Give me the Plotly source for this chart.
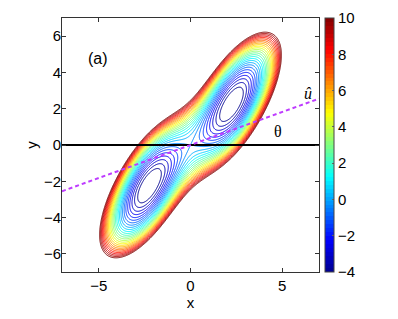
import numpy as np
import plotly.graph_objects as go

# ---- data / model parameters ----
x_range = [-7, 7]
y_range = [-7, 7]
x_ticks = [-5, 0, 5]
y_ticks = [-6, -4, -2, 0, 2, 4, 6]
cbar_ticks = [-4, -2, 0, 2, 4, 6, 8, 10]
cbar_range = [-4, 10]
contour_levels = [-3.5, 10, 0.5]     # start, end, step
well_x = [2.25]                      # wells at +/-(2.25, 2.25)
barrier = [4.3]                      # saddle (0) minus well minimum
softening = [0.71]
transverse_k = [3.3]
hline_x = [-7, 7]
hline_y = [0, 0]
uhat_x = [-7, 7]
uhat_y = [-2.55, 2.55]
labels = ["(a)", "θ", "<i>û</i>"]
label_x = [-5.05, 4.77, 6.4]
label_y = [4.75, 0.75, 2.85]

# ---- potential surface on a grid ----
xs = np.linspace(x_range[0], x_range[1], 401)
ys = np.linspace(y_range[0], y_range[1], 401)
X, Y = np.meshgrid(xs, ys)
U = X / well_x[0]
Z = barrier[0] * (U**2 - 1) ** 2 / (1 + softening[0] * U**2) - barrier[0] \
    + 0.5 * transverse_k[0] * (Y - X) ** 2

# MATLAB-like jet colormap
jet_nodes = [(0, (0, 0, 143)), (0.125, (0, 0, 255)), (0.375, (0, 255, 255)),
             (0.625, (255, 255, 0)), (0.875, (255, 0, 0)), (1, (128, 0, 0))]

def jet_rgb(t):
    for (t0, c0), (t1, c1) in zip(jet_nodes[:-1], jet_nodes[1:]):
        if t <= t1:
            f = (t - t0) / (t1 - t0)
            return tuple(int(round(a + f * (b - a))) for a, b in zip(c0, c1))
    return jet_nodes[-1][1]

jet = [[t, "rgb(%d,%d,%d)" % c] for t, c in jet_nodes]
nsteps = 64
jet_steps = []
for i in range(nsteps):
    c = "rgb(%d,%d,%d)" % jet_rgb((i + 0.5) / nsteps)
    jet_steps.append([i / nsteps, c])
    jet_steps.append([(i + 1) / nsteps, c])

fig = go.Figure()
fig.add_trace(go.Contour(
    x=xs, y=ys, z=Z,
    contours=dict(coloring="lines", start=contour_levels[0],
                  end=contour_levels[1], size=contour_levels[2]),
    colorscale=jet, zmin=cbar_range[0], zmax=cbar_range[1], zauto=False,
    showscale=False, line=dict(width=1.0), hoverinfo="skip",
))
fig.add_trace(go.Scatter(x=hline_x, y=hline_y, mode="lines",
                         line=dict(color="black", width=2), showlegend=False))
fig.add_trace(go.Scatter(x=uhat_x, y=uhat_y, mode="lines",
                         line=dict(color="rgb(190,60,255)", width=2, dash="4px,3px"),
                         showlegend=False))
fig.add_trace(go.Scatter(
    x=[None], y=[None], mode="markers", showlegend=False,
    marker=dict(colorscale=jet_steps, cmin=cbar_range[0], cmax=cbar_range[1],
                color=[0], showscale=True,
                colorbar=dict(x=1.024, xanchor="left", xpad=0, y=0.5, yanchor="middle",
                              len=1, lenmode="fraction", ypad=0, thickness=9,
                              outlinewidth=1, outlinecolor="#444",
                              tickvals=cbar_ticks, ticks="inside", ticklen=2,
                              tickcolor="#666",
                              tickfont=dict(family="Liberation Sans", size=15, color="black"))),
))

for txt, lx, ly in zip(labels, label_x, label_y):
    fam = "Liberation Sans" if txt == "(a)" else "Liberation Serif"
    fig.add_annotation(x=lx, y=ly, text=txt, showarrow=False,
                       font=dict(family=fam, size=16, color="black"))

axis_common = dict(showgrid=False, zeroline=False, showline=True, linecolor="#333",
                   linewidth=1, mirror="ticks", ticks="inside", ticklen=4,
                   tickcolor="#333",
                   tickfont=dict(family="Liberation Sans", size=15, color="black"))
fig.update_xaxes(range=x_range, tickvals=x_ticks, title=dict(text="x", standoff=2,
                 font=dict(family="Liberation Sans", size=15, color="black")), **axis_common)
fig.update_yaxes(range=y_range, tickvals=y_ticks, ticklabelstandoff=-3,
                 title=dict(text="y", standoff=2,
                 font=dict(family="Liberation Sans", size=15, color="black")), **axis_common)

fig.update_layout(width=398, height=319, margin=dict(l=62, r=79, t=18, b=43),
                  paper_bgcolor="white", plot_bgcolor="white", showlegend=False)
fig.write_html("out.html", config={"displayModeBar": False},
               post_script="document.body.style.margin='0';")
